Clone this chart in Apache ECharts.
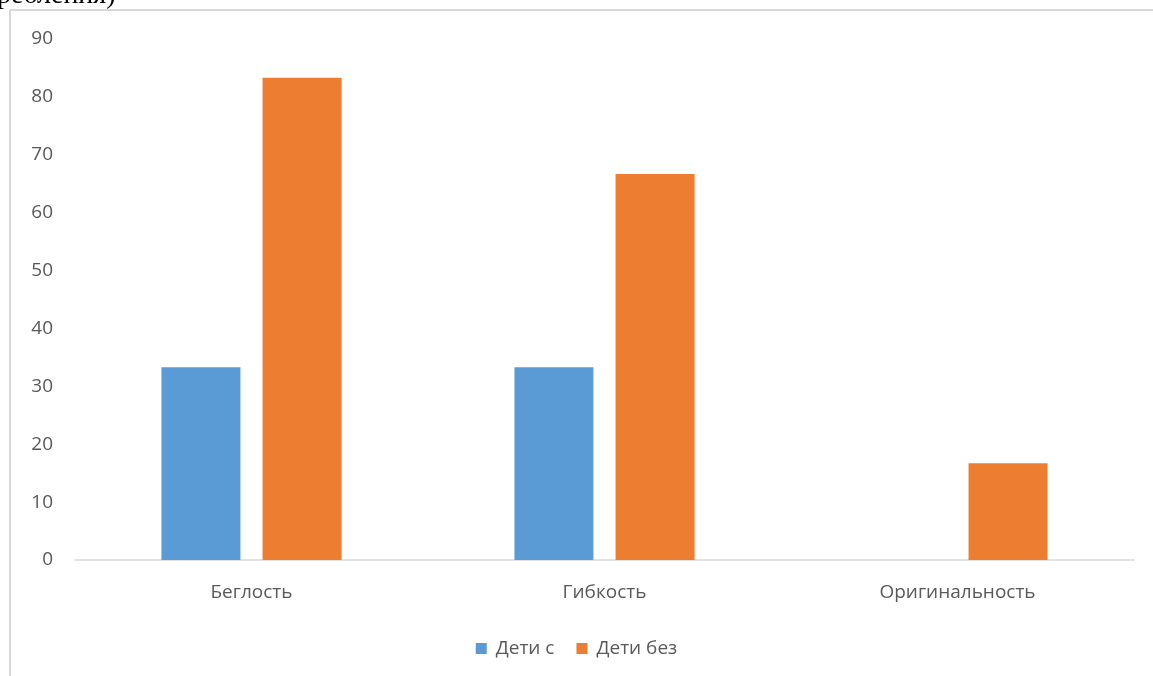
<!DOCTYPE html>
<html>
<head>
<meta charset="utf-8">
<script src="https://cdn.jsdelivr.net/npm/echarts@6/dist/echarts.min.js"></script>
<style>
  html, body { margin: 0; padding: 0; background: #fff; }
  #chart { width: 1153px; height: 676px; }
</style>
</head>
<body>
<div id="chart"></div>
<script>
// Categories and series values
const categories = ['Беглость', 'Гибкость', 'Оригинальность'];
const seriesNames = ['Дети с', 'Дети без'];
const withValues = [33.3, 33.3, 0];
const withoutValues = [83.3, 66.7, 16.7];
const yTicks = { min: 0, max: 90, interval: 10 };

const textColor = '#595959';
const fontFamily = '"Open Sans", "Noto Sans", sans-serif';
const fontSize = 19;

const chart = echarts.init(document.getElementById('chart'));
chart.setOption({
  animation: false,
  backgroundColor: '#ffffff',
  textStyle: { fontFamily: fontFamily },
  graphic: [
    // frame of the chart area
    { type: 'line', shape: { x1: 10, y1: 10, x2: 1153, y2: 10 }, style: { stroke: '#d9d9d9', lineWidth: 2 } },
    { type: 'line', shape: { x1: 10, y1: 10, x2: 10, y2: 676 }, style: { stroke: '#d9d9d9', lineWidth: 2 } },
    // trailing line of the surrounding text
    { type: 'text', left: -3, top: -18, z: 10,
      style: { text: 'ребления)', fill: '#000', font: '28px "Liberation Serif", serif' } }
  ],
  grid: { left: 75, right: 19, top: 39, bottom: 116 },
  legend: {
    data: seriesNames,
    top: 634,
    left: 'center',
    itemWidth: 11,
    itemHeight: 11,
    itemGap: 22,
    icon: 'rect',
    textStyle: { color: textColor, fontSize: fontSize, fontFamily: fontFamily, padding: [0, 0, 0, 4] }
  },
  xAxis: {
    type: 'category',
    data: categories,
    axisLine: { lineStyle: { color: '#d9d9d9', width: 1.5 } },
    axisTick: { show: false },
    axisLabel: { color: textColor, fontSize: fontSize, margin: 23, fontFamily: fontFamily }
  },
  yAxis: {
    type: 'value',
    min: yTicks.min,
    max: yTicks.max,
    interval: yTicks.interval,
    axisLine: { show: false },
    axisTick: { show: false },
    splitLine: { show: false },
    axisLabel: { color: textColor, fontSize: fontSize, margin: 22, fontFamily: fontFamily }
  },
  series: [
    { name: seriesNames[0], type: 'bar', data: withValues, barWidth: 79, barGap: '28%',
      itemStyle: { color: '#5B9BD5' } },
    { name: seriesNames[1], type: 'bar', data: withoutValues, barWidth: 79,
      itemStyle: { color: '#ED7D31' } }
  ]
});
</script>
</body>
</html>
